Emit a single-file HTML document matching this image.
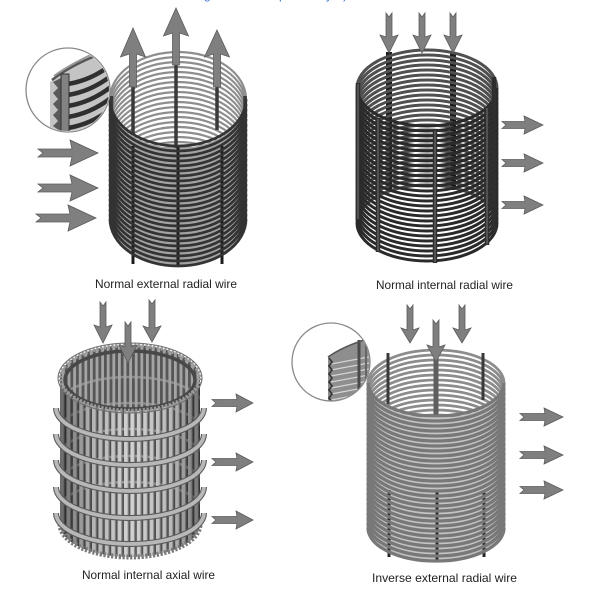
<!DOCTYPE html>
<html><head><meta charset="utf-8"><style>html,body{margin:0;padding:0;background:#fff}svg{display:block}</style></head>
<body>
<svg width="600" height="600" viewBox="0 0 600 600" xmlns="http://www.w3.org/2000/svg">
<defs>
<path id="tlb" d="M110,0 A68,47 0 0 1 246,0"/>
<path id="tlf" d="M110,0 A68,47 0 0 0 246,0"/>
<path id="trb" d="M357,0 A70,38 0 0 1 497,0"/>
<path id="trf" d="M357,0 A70,38 0 0 0 497,0"/>
<path id="brb" d="M368,0 A68,33 0 0 1 504,0"/>
<path id="brf" d="M368,0 A68,33 0 0 0 504,0"/>
<path id="blb" d="M56,0 A74,31 0 0 1 204,0"/>
<path id="blf" d="M56,0 A74,31 0 0 0 204,0"/>
<pattern id="fbars" x="60" y="0" width="6.4" height="20" patternUnits="userSpaceOnUse"><rect x="0" y="0" width="3.8" height="20" fill="#d2d2d2"/><rect x="3.8" y="0" width="0.9" height="20" fill="#8a8a8a"/></pattern>
<pattern id="ibars" x="62" y="0" width="5.6" height="20" patternUnits="userSpaceOnUse"><rect x="0" y="0" width="2.8" height="20" fill="#a4a4a4"/></pattern>
<linearGradient id="shade" x1="60" x2="200" y1="0" y2="0" gradientUnits="userSpaceOnUse">
<stop offset="0" stop-color="#000" stop-opacity=".5"/><stop offset=".22" stop-color="#000" stop-opacity=".15"/><stop offset=".5" stop-color="#000" stop-opacity="0"/><stop offset=".8" stop-color="#000" stop-opacity=".12"/><stop offset="1" stop-color="#000" stop-opacity=".45"/></linearGradient>
<clipPath id="blface"><path d="M60,378 L60,524 A70,33 0 0 0 200,524 L200,378 A70,33 0 0 1 60,378 Z"/></clipPath>
<clipPath id="blopen"><ellipse cx="130" cy="378" rx="70" ry="33"/></clipPath>
<clipPath id="mag1"><circle cx="68" cy="90" r="41"/></clipPath>
<clipPath id="mag2"><circle cx="331" cy="362" r="38.5"/></clipPath>
</defs>

<!-- top blue fragments -->
<g font-family="Liberation Sans, sans-serif" font-size="12" fill="#3a6fd8">
<text x="204" y="-1">g</text><text x="279" y="-1">p</text><text x="326" y="-1">y</text><text x="343" y="-1">)</text>
</g>

<!-- ================= TOP LEFT ================= -->
<g fill="none" stroke="#8e8e8e" stroke-width="2.2">
<use href="#tlb" y="99"/><use href="#tlb" y="104"/><use href="#tlb" y="109"/><use href="#tlb" y="114"/><use href="#tlb" y="119"/>
<use href="#tlb" y="124"/><use href="#tlb" y="129"/><use href="#tlb" y="134"/><use href="#tlb" y="139"/><use href="#tlb" y="144"/>
<use href="#tlb" y="149"/><use href="#tlb" y="154"/><use href="#tlb" y="159"/><use href="#tlb" y="164"/><use href="#tlb" y="169"/>
<use href="#tlb" y="174"/><use href="#tlb" y="179"/><use href="#tlb" y="184"/><use href="#tlb" y="189"/><use href="#tlb" y="194"/>
<use href="#tlb" y="199"/><use href="#tlb" y="204"/><use href="#tlb" y="209"/><use href="#tlb" y="214"/><use href="#tlb" y="219"/>
</g>
<g stroke="#3a3a3a" stroke-width="3.5">
<line x1="133" y1="84" x2="133" y2="134"/>
<line x1="176" y1="62" x2="176" y2="148"/>
<line x1="217" y1="84" x2="217" y2="130"/>
<line x1="111.5" y1="96" x2="111.5" y2="222"/>
<line x1="245" y1="96" x2="245" y2="222"/>
</g>
<g fill="#7f7f7f" stroke="#5c5c5c" stroke-width=".8">
<polygon points="133,28 145.5,57 136.5,54 136.5,87 129.5,87 129.5,54 120.5,57"/>
<polygon points="176,8 188.5,36 179.5,33 179.5,65 172.5,65 172.5,33 163.5,36"/>
<polygon points="217,30 229.5,57 220.5,54 220.5,87 213.5,87 213.5,54 204.5,57"/>
</g>
<path d="M110,101 L110,219 A68,47 0 0 0 246,219 L246,101 A68,47 0 0 1 110,101 Z" fill="#a2a2a2"/>
<g stroke="#1c1c1c" stroke-width="3">
<line x1="133" y1="146" x2="133" y2="264"/>
<line x1="178" y1="146" x2="178" y2="266"/>
<line x1="222" y1="146" x2="222" y2="264"/>
</g>
<g fill="none" stroke="#333" stroke-width="2.8">
<use href="#tlf" y="99"/><use href="#tlf" y="104"/><use href="#tlf" y="109"/><use href="#tlf" y="114"/><use href="#tlf" y="119"/>
<use href="#tlf" y="124"/><use href="#tlf" y="129"/><use href="#tlf" y="134"/><use href="#tlf" y="139"/><use href="#tlf" y="144"/>
<use href="#tlf" y="149"/><use href="#tlf" y="154"/><use href="#tlf" y="159"/><use href="#tlf" y="164"/><use href="#tlf" y="169"/>
<use href="#tlf" y="174"/><use href="#tlf" y="179"/><use href="#tlf" y="184"/><use href="#tlf" y="189"/><use href="#tlf" y="194"/>
<use href="#tlf" y="199"/><use href="#tlf" y="204"/><use href="#tlf" y="209"/><use href="#tlf" y="214"/><use href="#tlf" y="219"/>
</g>
<g fill="#7f7f7f" stroke="#5c5c5c" stroke-width=".8">
<polygon points="38,149 72,149 70,140 98,153 70,166 72,157 38,157 43,153"/>
<polygon points="38,184 72,184 70,175 98,188 70,201 72,192 38,192 43,188"/>
<polygon points="36,214 70,214 68,205 96,218 68,231 70,222 36,222 41,218"/>
</g>
<!-- magnifier TL -->
<circle cx="68" cy="90" r="42" fill="#fff"/>
<g clip-path="url(#mag1)">
<path d="M50,82 Q75,62 112,50 L112,135 L50,135 Z" fill="#c4c4c4"/>
<g fill="none" stroke="#2f2f2f" stroke-width="4.5">
<path d="M68,84 Q92,80 112,64"/>
<path d="M68,95 Q92,91 112,75"/>
<path d="M68,106 Q92,102 112,86"/>
<path d="M68,117 Q92,113 112,97"/>
<path d="M68,128 Q92,124 112,108"/>
</g>
<path d="M52,80 Q75,62 112,50" fill="none" stroke="#555" stroke-width="2.5"/>
<path d="M54,76 Q76,60 112,46" fill="none" stroke="#999" stroke-width="2"/>
<path d="M61,78 L53,82 L58,88 L53,93 L58,99 L53,104 L58,110 L53,115 L58,121 L53,126 L61,132 Z" fill="#5a5a5a"/>
<rect x="61" y="74" width="8" height="62" fill="#828282" stroke="#333" stroke-width="1"/>
</g>
<circle cx="68" cy="90" r="42" fill="none" stroke="#8a8a8a" stroke-width="1.3"/>

<!-- ================= TOP RIGHT ================= -->
<g stroke="#1a1a1a" stroke-width="6">
<line x1="389" y1="52" x2="389" y2="190"/>
<line x1="453" y1="52" x2="453" y2="190"/>
</g>
<g fill="none" stroke="#505050" stroke-width="3">
<use href="#trb" y="88"/><use href="#trb" y="93"/><use href="#trb" y="98"/><use href="#trb" y="103"/><use href="#trb" y="108"/>
<use href="#trb" y="113"/><use href="#trb" y="118"/><use href="#trb" y="123"/><use href="#trb" y="128"/><use href="#trb" y="133"/>
<use href="#trb" y="138"/><use href="#trb" y="143"/><use href="#trb" y="148"/><use href="#trb" y="153"/><use href="#trb" y="158"/>
<use href="#trb" y="163"/><use href="#trb" y="168"/><use href="#trb" y="173"/><use href="#trb" y="178"/><use href="#trb" y="183"/>
<use href="#trb" y="188"/><use href="#trb" y="193"/><use href="#trb" y="198"/><use href="#trb" y="203"/><use href="#trb" y="208"/>
<use href="#trb" y="213"/><use href="#trb" y="218"/><use href="#trb" y="223"/>
</g>
<g fill="none" stroke="#2a2a2a" stroke-width="3">
<use href="#trf" y="88"/><use href="#trf" y="93"/><use href="#trf" y="98"/><use href="#trf" y="103"/><use href="#trf" y="108"/>
<use href="#trf" y="113"/><use href="#trf" y="118"/><use href="#trf" y="123"/><use href="#trf" y="128"/><use href="#trf" y="133"/>
<use href="#trf" y="138"/><use href="#trf" y="143"/><use href="#trf" y="148"/><use href="#trf" y="153"/><use href="#trf" y="158"/>
<use href="#trf" y="163"/><use href="#trf" y="168"/><use href="#trf" y="173"/><use href="#trf" y="178"/><use href="#trf" y="183"/>
<use href="#trf" y="188"/><use href="#trf" y="193"/><use href="#trf" y="198"/><use href="#trf" y="203"/><use href="#trf" y="208"/>
<use href="#trf" y="213"/><use href="#trf" y="218"/><use href="#trf" y="223"/>
</g>
<g stroke="#2e2e2e" stroke-width="4.5">
<line x1="358" y1="83" x2="358" y2="220"/>
<line x1="378" y1="118" x2="378" y2="252"/>
<line x1="435" y1="130" x2="435" y2="263"/>
<line x1="487" y1="107" x2="487" y2="245"/>
<line x1="494" y1="77" x2="494" y2="233"/>
</g>
<g stroke="#777" stroke-width="1">
<line x1="358" y1="84" x2="358" y2="219"/>
<line x1="378" y1="119" x2="378" y2="251"/>
<line x1="435" y1="131" x2="435" y2="262"/>
<line x1="487" y1="108" x2="487" y2="244"/>
</g>
<g fill="#7f7f7f" stroke="#5c5c5c" stroke-width=".8">
<polygon points="386,13 389,17 392,13 392,37 398,35 389,53 380,35 386,37"/>
<polygon points="419,13 422,17 425,13 425,37 431,35 422,53 413,35 419,37"/>
<polygon points="450,13 453,17 456,13 456,37 462,35 453,53 444,35 450,37"/>
<polygon points="502,121.5 525,121.5 524,116 543,125 524,134 525,128.5 502,128.5 506,125"/>
<polygon points="502,159.5 525,159.5 524,154 543,163 524,172 525,166.5 502,166.5 506,163"/>
<polygon points="502,201.5 525,201.5 524,196 543,205 524,214 525,208.5 502,208.5 506,205"/>
</g>

<!-- ================= BOTTOM LEFT ================= -->
<ellipse cx="130" cy="378" rx="70" ry="33" fill="#565656"/>
<g clip-path="url(#blopen)">
<g fill="none" stroke="#8a8a8a" stroke-width="2.5">
<use href="#blb" y="408"/><use href="#blb" y="434"/>
</g>
<rect x="55" y="340" width="150" height="80" fill="url(#ibars)"/>
</g>
<ellipse cx="130" cy="380" rx="65" ry="29" fill="none" stroke="#484848" stroke-width="3.5"/>
<g clip-path="url(#blface)">
<rect x="55" y="340" width="150" height="225" fill="#555"/>
<g fill="none" stroke="#9a9a9a" stroke-width="2.5">
<use href="#blb" y="408"/><use href="#blb" y="434"/><use href="#blb" y="460"/><use href="#blb" y="487"/><use href="#blb" y="513"/>
</g>
<rect x="55" y="340" width="150" height="225" fill="url(#fbars)"/>
<rect x="55" y="340" width="150" height="225" fill="url(#shade)"/>
</g>
<ellipse cx="130" cy="378" rx="70" ry="33" fill="none" stroke="#9a9a9a" stroke-width="4.5" stroke-dasharray="2.2 1.6"/>
<ellipse cx="130" cy="378" rx="72" ry="35" fill="none" stroke="#707070" stroke-width="1"/>
<path d="M60,524 A70,33 0 0 0 200,524" fill="none" stroke="#7a7a7a" stroke-width="5" stroke-dasharray="2.2 1.6"/>
<g fill="none" stroke="#5a5a5a" stroke-width="6">
<use href="#blf" y="408"/><use href="#blf" y="434"/><use href="#blf" y="460"/><use href="#blf" y="487"/><use href="#blf" y="513"/>
</g>
<g fill="none" stroke="#b8b8b8" stroke-width="3.8">
<use href="#blf" y="408"/><use href="#blf" y="434"/><use href="#blf" y="460"/><use href="#blf" y="487"/><use href="#blf" y="513"/>
</g>
<g fill="#7f7f7f" stroke="#5c5c5c" stroke-width=".8">
<polygon points="100,302 103,306 106,302 106,327 112,325 103,343 94,325 100,327"/>
<polygon points="125,322 128,326 131,322 131,347 137,345 128,363 119,345 125,347"/>
<polygon points="149,300 152,304 155,300 155,328 161,326 152,342 143,326 149,328"/>
<polygon points="212,399.5 237,399.5 236,394 253,403 236,412 237,406.5 212,406.5 216,403"/>
<polygon points="212,458.5 237,458.5 236,453 253,462 236,471 237,465.5 212,465.5 216,462"/>
<polygon points="212,516.5 237,516.5 236,511 253,520 236,529 237,523.5 212,523.5 216,520"/>
</g>

<!-- ================= BOTTOM RIGHT ================= -->
<g fill="none" stroke="#8c8c8c" stroke-width="2.8">
<use href="#brb" y="383"/><use href="#brb" y="388"/><use href="#brb" y="393"/><use href="#brb" y="398"/><use href="#brb" y="403"/>
<use href="#brb" y="408"/><use href="#brb" y="413"/><use href="#brb" y="418"/><use href="#brb" y="423"/><use href="#brb" y="428"/>
<use href="#brb" y="433"/><use href="#brb" y="438"/><use href="#brb" y="443"/><use href="#brb" y="448"/><use href="#brb" y="453"/>
<use href="#brb" y="458"/><use href="#brb" y="463"/><use href="#brb" y="468"/><use href="#brb" y="473"/><use href="#brb" y="478"/>
<use href="#brb" y="483"/><use href="#brb" y="488"/><use href="#brb" y="493"/><use href="#brb" y="498"/><use href="#brb" y="503"/>
<use href="#brb" y="508"/><use href="#brb" y="513"/><use href="#brb" y="518"/><use href="#brb" y="523"/><use href="#brb" y="528"/>
</g>
<g stroke="#3a3a3a" stroke-width="3">
<line x1="388" y1="353" x2="388" y2="404"/>
<line x1="483" y1="353" x2="483" y2="400"/>
</g>
<line x1="436" y1="345" x2="436" y2="417" stroke="#5e5e5e" stroke-width="5"/>
<path d="M368,385 L368,528 A68,33 0 0 0 504,528 L504,385 A68,33 0 0 1 368,385 Z" fill="#c4c4c4"/>
<g stroke="#262626" stroke-width="3">
<line x1="389" y1="490" x2="389" y2="557"/>
<line x1="437" y1="490" x2="437" y2="560"/>
<line x1="484" y1="490" x2="484" y2="557"/>
</g>
<g fill="none" stroke="#787878" stroke-width="3.3">
<use href="#brf" y="383"/><use href="#brf" y="388"/><use href="#brf" y="393"/><use href="#brf" y="398"/><use href="#brf" y="403"/>
<use href="#brf" y="408"/><use href="#brf" y="413"/><use href="#brf" y="418"/><use href="#brf" y="423"/><use href="#brf" y="428"/>
<use href="#brf" y="433"/><use href="#brf" y="438"/><use href="#brf" y="443"/><use href="#brf" y="448"/><use href="#brf" y="453"/>
<use href="#brf" y="458"/><use href="#brf" y="463"/><use href="#brf" y="468"/><use href="#brf" y="473"/><use href="#brf" y="478"/>
<use href="#brf" y="483"/><use href="#brf" y="488"/><use href="#brf" y="493"/><use href="#brf" y="498"/><use href="#brf" y="503"/>
<use href="#brf" y="508"/><use href="#brf" y="513"/><use href="#brf" y="518"/><use href="#brf" y="523"/><use href="#brf" y="528"/>
</g>
<g fill="#7f7f7f" stroke="#5c5c5c" stroke-width=".8">
<polygon points="407,305 410,309 413,305 413,330 419,328 410,343 401,328 407,330"/>
<polygon points="433,320 436,324 439,320 439,347 445,345 436,362 427,345 433,347"/>
<polygon points="459,305 462,309 465,305 465,330 471,328 462,343 453,328 459,330"/>
<polygon points="520,413.5 545,413.5 544,408 563,417 544,426 545,420.5 520,420.5 524,417"/>
<polygon points="520,451.5 545,451.5 544,446 563,455 544,464 545,458.5 520,458.5 524,455"/>
<polygon points="520,486.5 545,486.5 544,481 563,490 544,499 545,493.5 520,493.5 524,490"/>
</g>
<!-- magnifier BR -->
<circle cx="331" cy="362" r="39" fill="#fff"/>
<g clip-path="url(#mag2)">
<path d="M328,357 Q345,345 374,337 L374,405 L328,405 Z" fill="#8e8e8e"/>
<g stroke="#d4d4d4" stroke-width="1.2">
<line x1="331" y1="364" x2="374" y2="356"/>
<line x1="331" y1="370" x2="374" y2="362"/>
<line x1="331" y1="376" x2="374" y2="368"/>
<line x1="331" y1="382" x2="374" y2="374"/>
<line x1="331" y1="388" x2="374" y2="380"/>
<line x1="331" y1="394" x2="374" y2="386"/>
<line x1="331" y1="400" x2="374" y2="392"/>
</g>
<line x1="359" y1="340" x2="359" y2="405" stroke="#4a4a4a" stroke-width="3"/>
<line x1="366" y1="338" x2="366" y2="405" stroke="#666" stroke-width="2"/>
<path d="M329,358 L332,362 L329,366 L332,370 L329,374 L332,378 L329,382 L332,386 L329,390 L332,394 L329,398 L332,402" fill="none" stroke="#333" stroke-width="1.6"/>
<path d="M328,357 Q345,345 374,337" fill="none" stroke="#555" stroke-width="1.5"/>
</g>
<circle cx="331" cy="362" r="39" fill="none" stroke="#8a8a8a" stroke-width="1.3"/>

<!-- labels -->
<g font-family="Liberation Sans, Arial, sans-serif" font-size="12" fill="#222">
<text x="95" y="288" textLength="142" lengthAdjust="spacingAndGlyphs">Normal external radial wire</text>
<text x="376" y="289" textLength="137" lengthAdjust="spacingAndGlyphs">Normal internal radial wire</text>
<text x="82" y="579" textLength="133" lengthAdjust="spacingAndGlyphs">Normal internal axial wire</text>
<text x="372" y="582" textLength="145" lengthAdjust="spacingAndGlyphs">Inverse external radial wire</text>
</g>
</svg>
</body></html>
